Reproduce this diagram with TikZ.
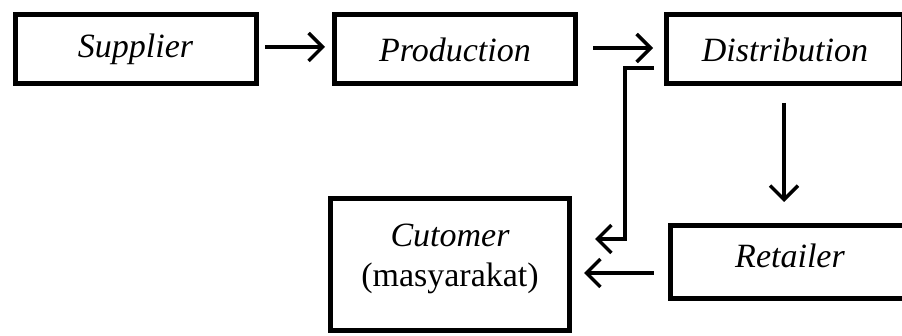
\documentclass[tikz,border=0pt]{standalone}
\usepackage{fontspec}
\setmainfont{Liberation Serif}
\usetikzlibrary{arrows.meta,calc}
\tikzset{
  stage/.style={draw, rectangle, line width=5pt, minimum width=241pt, minimum height=69pt,
    inner sep=0pt, align=center, font=\fontsize{34}{40}\selectfont},
  flow/.style={line width=3.5pt, -{Straight Barb[length=14pt,width=28pt]}}
}
\begin{document}
\begin{tikzpicture}[x=1pt, y=-1pt]
  \useasboundingbox (0,0) rectangle (902,336);
  \clip (0,0) rectangle (902,336);
  % stages of the chain
  \node[stage] (sup) at (135.5,49.5) {\itshape Supplier};
  \node[stage] (prod) at (455,49.5) {\itshape Production};
  \node[stage, minimum width=237pt] (dist) at (785,49.5) {\itshape Distribution};
  \node[stage, minimum width=240pt, minimum height=73pt] (ret) at (790,262)
    {\raisebox{6pt}[\height][\depth]{\itshape Retailer}};
  \node[stage, minimum width=239pt, minimum height=132pt] (cust) at (450,264.5)
    {\raisebox{6pt}[\height][\depth]{\begin{tabular}{@{}c@{}}\itshape Cutomer\\(masyarakat)\end{tabular}}};
  % flows between stages
  \draw[flow] ($(sup.east)+(6.5,-2.5)$) -- ($(prod.west)+(-7,-2.5)$);
  \draw[flow] ($(prod.east)+(15,-1.5)$) -- ($(dist.west)+(-11,-1.5)$);
  \draw[flow] ($(dist.west)+(-10,18.5)$) -- ++(-29,0) |- ($(cust.east)+(23,-25.5)$);
  \draw[flow] ($(dist.south)+(-1,16.5)$) -- ($(ret.north)+(-6,-21)$);
  \draw[flow] ($(ret.west)+(-14,11)$) -- ($(cust.east)+(12,8.5)$);
\end{tikzpicture}
\end{document}
